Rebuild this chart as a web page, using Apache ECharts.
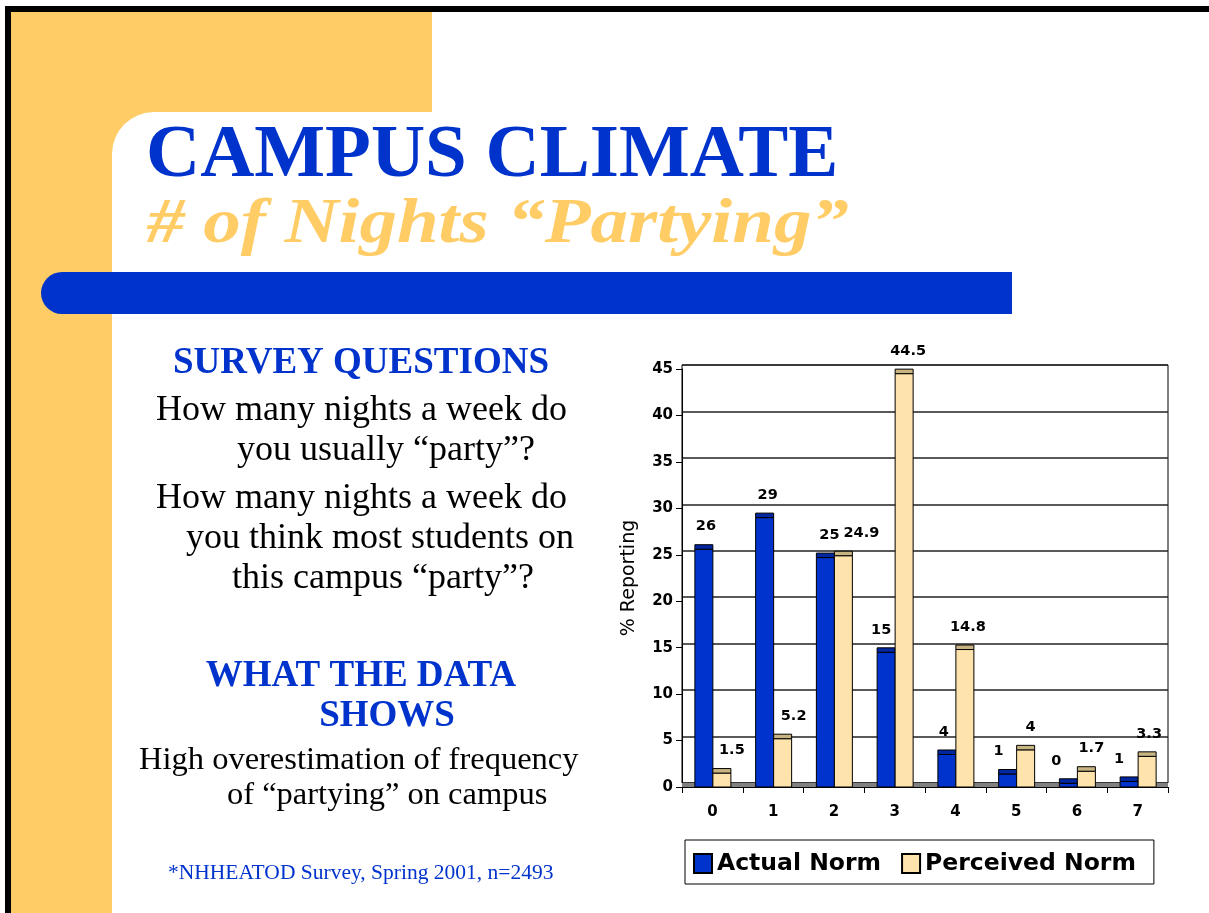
<!DOCTYPE html>
<html>
<head>
<meta charset="utf-8">
<title>Campus Climate - # of Nights Partying</title>
<script src="https://cdn.jsdelivr.net/npm/echarts@6/dist/echarts.min.js"></script>
<style>
  html, body { margin: 0; padding: 0; background: #fff; }
  #chart { width: 1209px; height: 913px; }
</style>
</head>
<body>
<div id="chart"></div>
<script>
// nights a week (categories)
var nights = ['0', '1', '2', '3', '4', '5', '6', '7'];
// % reporting
var actualNorm = [25.6, 29.0, 24.7, 14.5, 3.5, 1.4, 0.4, 0.6];
var perceivedNorm = [1.5, 5.2, 24.9, 44.5, 14.8, 4, 1.7, 3.3];
// value axis
var yMin = 0, yMax = 45, yStep = 5;

var BLUE = '#0033cc';
var GOLD = '#ffcc66';
var SERIF = '"Liberation Serif", serif';
var SANS = '"DejaVu Sans", sans-serif';

// small sideways nudges of the value labels (as in the slide)
var actualNudge = [2, 3, 4, -5, -3, -9, -12, -10];
var perceivedNudge = [10, 11, 18, 4, 3, 5, 5, 2];

var BAR_W = 18;
var CAP_H = 4.5;

function barRenderer(offset, face, cap, nudge, fmt) {
  return function (params, api) {
    var i = api.value(0);
    var v = api.value(1);
    var p0 = api.coord([i, 0]);
    var p1 = api.coord([i, v]);
    var x = p0[0] + offset;
    return {
      type: 'group',
      children: [
        {
          type: 'rect',
          shape: { x: x, y: p1[1], width: BAR_W, height: p0[1] - p1[1] },
          style: { fill: face, stroke: '#000', lineWidth: 1 }
        },
        {
          type: 'rect',
          shape: { x: x, y: p1[1] - CAP_H, width: BAR_W, height: CAP_H },
          style: { fill: cap, stroke: '#000', lineWidth: 1 }
        },
        {
          type: 'text',
          style: {
            text: fmt(v),
            x: x + BAR_W / 2 + nudge[params.dataIndex],
            y: p1[1] - CAP_H - 18,
            align: 'center',
            verticalAlign: 'middle',
            font: 'bold 14.5px ' + SANS,
            fill: '#000'
          }
        }
      ]
    };
  };
}

// slide text, y = middle of the capitals
function txt(text, x, y, font, color, align, sx) {
  return {
    type: 'text',
    z: 20,
    x: x,
    y: y,
    scaleX: sx || 1,
    style: { text: text, x: 0, y: 0, font: font, fill: color, align: align || 'left', verticalAlign: 'middle' }
  };
}

var chart = echarts.init(document.getElementById('chart'));

chart.setOption({
  animation: false,
  backgroundColor: '#fff',
  graphic: [
    // slide frame
    { type: 'rect', z: -10, shape: { x: 11, y: 12, width: 421, height: 150 }, style: { fill: GOLD } },
    { type: 'rect', z: -10, shape: { x: 11, y: 12, width: 101, height: 901 }, style: { fill: GOLD } },
    { type: 'rect', z: -9, shape: { x: 112, y: 112, width: 1097, height: 801, r: [42, 0, 0, 0] }, style: { fill: '#fff' } },
    { type: 'rect', z: -8, shape: { x: 5, y: 6, width: 1204, height: 6 }, style: { fill: '#000' } },
    { type: 'rect', z: -8, shape: { x: 5, y: 6, width: 6, height: 907 }, style: { fill: '#000' } },
    { type: 'rect', z: -8, shape: { x: 41, y: 272, width: 971, height: 42, r: [21, 0, 0, 21] }, style: { fill: BLUE } },
    // chart floor
    { type: 'rect', z: 1, shape: { x: 682, y: 783, width: 486, height: 4 }, style: { fill: '#808080' } },

    // titles
    txt('CAMPUS CLIMATE', 146, 157, 'bold 75px ' + SERIF, BLUE),
    txt('# of Nights \u201cPartying\u201d', 147, 226, 'italic bold 63px ' + SERIF, GOLD, 'left', 1.19),

    // survey text
    txt('SURVEY QUESTIONS', 361, 363, 'bold 37px ' + SERIF, BLUE, 'center'),
    txt('How many nights a week do', 156, 411, '36px ' + SERIF, '#000'),
    txt('you usually \u201cparty\u201d?', 237, 451, '36px ' + SERIF, '#000'),
    txt('How many nights a week do', 156, 499, '36px ' + SERIF, '#000'),
    txt('you think most students on', 186, 539, '36px ' + SERIF, '#000'),
    txt('this campus \u201cparty\u201d?', 232, 579, '36px ' + SERIF, '#000'),
    txt('WHAT THE DATA', 361, 676, 'bold 37px ' + SERIF, BLUE, 'center'),
    txt('SHOWS', 387, 716, 'bold 37px ' + SERIF, BLUE, 'center'),
    txt('High overestimation of frequency', 139, 760, '32.5px ' + SERIF, '#000'),
    txt('of \u201cpartying\u201d on campus', 227, 795, '32.5px ' + SERIF, '#000'),
    txt('*NHHEATOD Survey, Spring 2001, n=2493', 168, 873, '21.5px ' + SERIF, BLUE)
  ],
  legend: {
    left: 685,
    top: 840,
    orient: 'horizontal',
    data: ['Actual Norm', 'Perceived Norm'],
    icon: 'rect',
    itemWidth: 18,
    itemHeight: 19,
    itemGap: 20,
    padding: [10, 18, 7, 8],
    borderColor: '#000',
    borderWidth: 1,
    textStyle: { fontFamily: SANS, fontWeight: 'bold', fontSize: 23.5, color: '#000', lineHeight: 24, padding: [3, 0, 0, 0] }
  },
  grid: [
    { left: 682, top: 369, width: 486, height: 418 },
    { left: 682, top: 365, width: 486, height: 418, show: true, borderColor: '#000', borderWidth: 1, backgroundColor: 'transparent' }
  ],
  xAxis: [
    {
      type: 'category',
      gridIndex: 0,
      data: nights,
      axisLine: { lineStyle: { color: '#000', width: 1 } },
      axisTick: { show: true, length: 6, interval: 0, lineStyle: { color: '#000' } },
      axisLabel: { margin: 18, fontFamily: SANS, fontWeight: 'bold', fontSize: 15, color: '#000' }
    },
    {
      type: 'category',
      gridIndex: 1,
      data: nights,
      show: false
    }
  ],
  yAxis: [
    {
      type: 'value',
      gridIndex: 0,
      min: yMin,
      max: yMax,
      interval: yStep,
      name: '% Reporting',
      nameLocation: 'middle',
      nameRotate: 90,
      nameGap: 43,
      nameTextStyle: { fontFamily: SANS, fontSize: 19, color: '#000' },
      axisLine: { show: true, lineStyle: { color: '#000', width: 1 } },
      axisTick: { show: true, length: 6, lineStyle: { color: '#000' } },
      axisLabel: { margin: 9, fontFamily: SANS, fontWeight: 'bold', fontSize: 15, color: '#000' },
      splitLine: { show: false }
    },
    {
      type: 'value',
      gridIndex: 1,
      min: yMin,
      max: yMax,
      interval: yStep,
      axisLine: { show: false },
      axisTick: { show: false },
      axisLabel: { show: false },
      splitLine: { show: true, lineStyle: { color: '#222', width: 1.5 } }
    }
  ],
  series: [
    {
      name: 'Actual Norm',
      type: 'custom',
      z: 5,
      xAxisIndex: 0,
      yAxisIndex: 0,
      itemStyle: { color: BLUE, borderColor: '#000', borderWidth: 1 },
      renderItem: barRenderer(-BAR_W + 0.5, BLUE, '#0026a0', actualNudge, function (v) { return String(Math.round(v)); }),
      encode: { x: 0, y: 1 },
      data: actualNorm.map(function (v, i) { return [i, v]; })
    },
    {
      name: 'Perceived Norm',
      type: 'custom',
      z: 5,
      xAxisIndex: 0,
      yAxisIndex: 0,
      itemStyle: { color: '#ffe3ad', borderColor: '#000', borderWidth: 1 },
      renderItem: barRenderer(0.5, '#ffe3ad', '#c8b482', perceivedNudge, function (v) { return String(v); }),
      encode: { x: 0, y: 1 },
      data: perceivedNorm.map(function (v, i) { return [i, v]; })
    }
  ]
});
</script>
</body>
</html>
